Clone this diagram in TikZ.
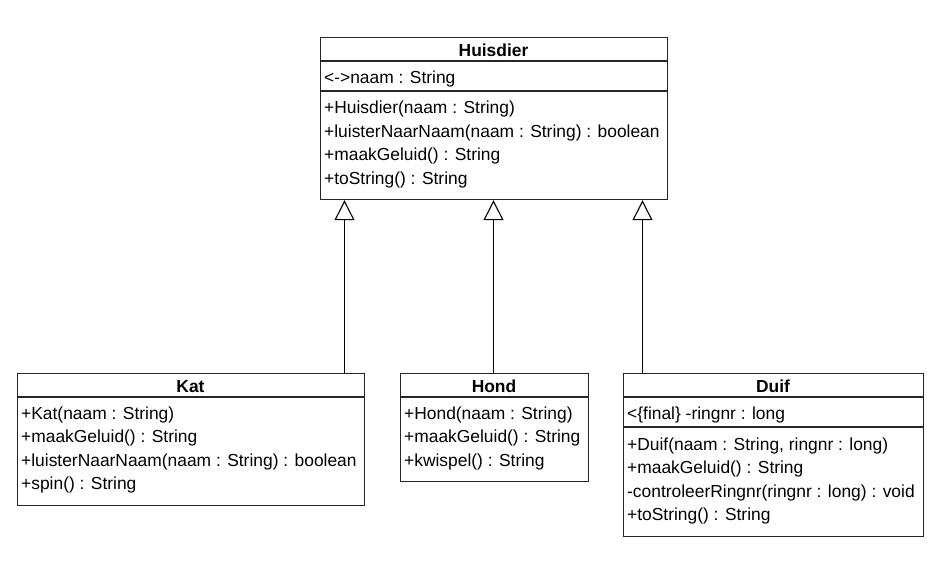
\documentclass[tikz,border=0pt]{standalone}
\usepackage{fontspec}
\setmainfont{Liberation Sans}
\usetikzlibrary{arrows.meta}

\tikzset{
  classbox/.style={draw=black!85, line width=1.2pt, anchor=north west, inner sep=0pt},
  member/.style={anchor=base west, inner sep=0pt},
  classname/.style={anchor=base, inner sep=0pt, font=\fontsize{17.4}{20}\selectfont\bfseries},
  extends/.style={line width=1.1pt, -{Triangle[open, length=20pt, width=20pt, line width=1.1pt]}}
}

\begin{document}
\begin{tikzpicture}[
    x=1pt, y=-1pt,
    every node/.style={font=\fontsize{17.4}{20}\selectfont}
  ]
  \useasboundingbox (0,0) rectangle (938,563);

  % superclass
  \node[classbox, minimum width=347pt, minimum height=162pt] (huisdier) at (320,37) {};
  \node[classname] (huisdierName) at (493.5,56) {Huisdier};
  \draw[line width=1.2pt, black!85] (huisdier.west |- 0,61) -- (huisdier.east |- 0,61);
  \node[member] (huisdierAttr) at (324,83) {<->naam : String};
  \draw[line width=1.2pt, black!85] (huisdier.west |- 0,91) -- (huisdier.east |- 0,91);
  \node[member] (huisdierOp1) at (324,113) {+Huisdier(naam : String)};
  \node[member] (huisdierOp2) at (324,137) {+luisterNaarNaam(naam : String) : boolean};
  \node[member] (huisdierOp3) at (324,160.5) {+maakGeluid() : String};
  \node[member] (huisdierOp4) at (324,184) {+toString() : String};

  % Kat
  \node[classbox, minimum width=347pt, minimum height=132pt] (kat) at (17,373) {};
  \node[classname] (katName) at (190.5,392) {Kat};
  \draw[line width=1.2pt, black!85] (kat.west |- 0,397) -- (kat.east |- 0,397);
  \node[member] (katOp1) at (21,419) {+Kat(naam : String)};
  \node[member] (katOp2) at (21,442.5) {+maakGeluid() : String};
  \node[member] (katOp3) at (21,466) {+luisterNaarNaam(naam : String) : boolean};
  \node[member] (katOp4) at (21,489.5) {+spin() : String};

  % Hond
  \node[classbox, minimum width=188pt, minimum height=108pt] (hond) at (400,373) {};
  \node[classname] (hondName) at (494,392) {Hond};
  \draw[line width=1.2pt, black!85] (hond.west |- 0,397) -- (hond.east |- 0,397);
  \node[member] (hondOp1) at (404,419) {+Hond(naam : String)};
  \node[member] (hondOp2) at (404,442.5) {+maakGeluid() : String};
  \node[member] (hondOp3) at (404,466) {+kwispel() : String};

  % Duif
  \node[classbox, minimum width=300pt, minimum height=163pt] (duif) at (623,373) {};
  \node[classname] (duifName) at (773,392) {Duif};
  \draw[line width=1.2pt, black!85] (duif.west |- 0,397) -- (duif.east |- 0,397);
  \node[member] (duifAttr) at (627,419) {<\{final\} -ringnr : long};
  \draw[line width=1.2pt, black!85] (duif.west |- 0,427) -- (duif.east |- 0,427);
  \node[member] (duifOp1) at (627,450) {+Duif(naam : String, ringnr : long)};
  \node[member] (duifOp2) at (627,473.5) {+maakGeluid() : String};
  \node[member] (duifOp3) at (627,497) {-controleerRingnr(ringnr : long) : void};
  \node[member] (duifOp4) at (627,520.5) {+toString() : String};

  % generalisations
  \draw[extends] (kat.north -| 344.5,0) -- (huisdier.south -| 344.5,0);
  \draw[extends] (hond.north -| 493.5,0) -- (huisdier.south -| 493.5,0);
  \draw[extends] (duif.north -| 642.5,0) -- (huisdier.south -| 642.5,0);
\end{tikzpicture}
\end{document}
